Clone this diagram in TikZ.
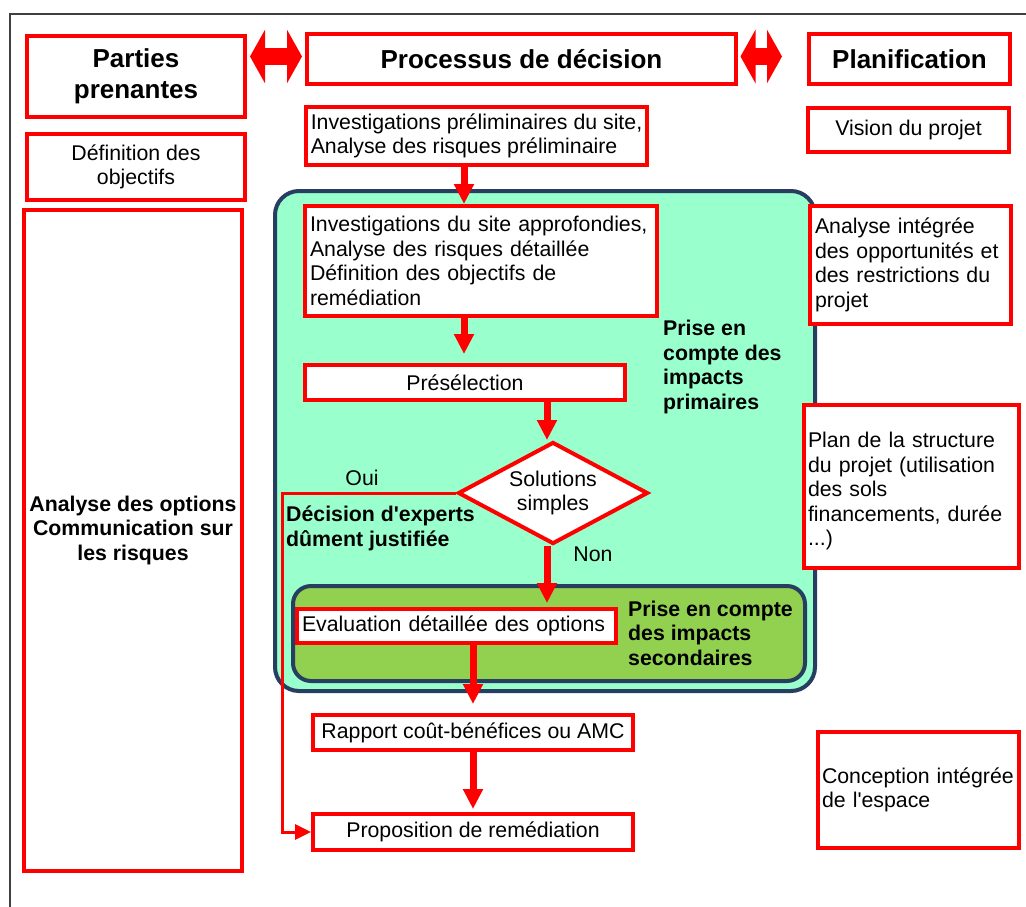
\documentclass[tikz,border=0pt]{standalone}
\usepackage{fontspec}
\setmainfont{Liberation Sans}
\usetikzlibrary{arrows.meta,shapes.geometric,calc}
\definecolor{myred}{RGB}{255,0,0}
\definecolor{mint}{RGB}{153,255,204}
\definecolor{leaf}{RGB}{146,208,80}
\definecolor{navy}{RGB}{40,62,96}
\begin{document}
\begin{tikzpicture}[x=1pt,y=-1pt,
  every node/.style={font=\fontsize{21.3}{24.5}\selectfont, inner sep=0pt},
  rb/.style={draw=myred, line width=4pt, fill=white, rectangle},
  hdr/.style={font=\fontsize{26}{31}\selectfont\bfseries},
  bold/.style={font=\fontsize{21.3}{24.5}\selectfont\bfseries},
  bigarrow/.style={draw=myred, line width=7pt, -{Triangle[length=20pt,width=19pt]}},
  thinarrow/.style={draw=myred, line width=3pt, -{Triangle[length=16pt,width=15pt]}},
  dbl/.style={draw=myred, line width=17pt, {Triangle[length=15pt,width=53pt]}-{Triangle[length=15pt,width=53pt]}},
  container/.style={draw=navy, line width=4pt}
]
\useasboundingbox (0,0) rectangle (1026,906);
% outer frame
\draw[line width=2pt, black!75] (1030,14) -- (10,14) -- (10,910);

% containers
\draw[container, fill=mint, rounded corners=24pt] (275,191) rectangle (815,691);
\draw[container, fill=leaf, rounded corners=18pt] (293,586) rectangle (805,681);

% header boxes
\node[rb, hdr, align=center, minimum width=218pt, minimum height=81pt] (pp) at (136,76) {Parties\\prenantes};
\node[rb, hdr, minimum width=429pt, minimum height=50pt] (pd) at (521.5,59) {Processus de décision};
\node[rb, hdr, minimum width=201pt, minimum height=50pt] (pl) at (909.5,59) {Planification};

% left column
\node[rb, align=center, minimum width=218pt, minimum height=66pt] (def) at (136,167) {Définition des\\objectifs};
\node[rb, bold, align=center, minimum width=218pt, minimum height=661pt] (ana) at (133,540.5) {Analyse des options\\Communication sur\\les risques\\\mbox{}};

% right column
\node[rb, minimum width=201pt, minimum height=44pt] (vis) at (908.5,130) {Vision du projet};
\node[rb, align=left, inner xsep=5pt, text width=191pt, minimum height=118pt] (aint) at (910.5,265) {Analyse intégrée\\des opportunités et\\des restrictions du\\projet};
\node[rb, align=left, inner xsep=4pt, text width=207pt, minimum height=163pt] (plan) at (911.5,486.5) {\mbox{}\\Plan de la structure\\du projet (utilisation\\des sols\\financements, durée\\...)};
\node[rb, align=left, inner xsep=4pt, text width=193pt, minimum height=116pt] (conc) at (918.5,790) {Conception\hspace{7pt}intégrée\\de l\textquotesingle espace};

% middle column
\node[rb, align=left, minimum width=341pt, minimum height=58pt] (ip) at (476.5,136) {Investigations préliminaires du site,\\Analyse des risques préliminaire};
\node[rb, align=left, inner xsep=5pt, text width=342pt, minimum height=110pt] (ia) at (481,261) {Investigations du site approfondies,\\Analyse des risques détaillée\\Définition des objectifs de\\remédiation};
\node[rb, minimum width=320pt, minimum height=35pt] (pre) at (465,382.5) {Présélection};
\node[draw=myred, line width=4pt, fill=white, diamond, aspect=1.86, align=center, minimum width=190pt, minimum height=102pt] (dia) at (553,493) {Solutions\\simples};
\node[rb, align=left, inner xsep=5pt, text width=309pt, minimum height=34pt] (ev) at (456.5,626) {Evaluation détaillée des options};
\node[rb, minimum width=320pt, minimum height=35pt] (rap) at (473,732.5) {Rapport coût-bénéfices ou AMC};
\node[rb, minimum width=320pt, minimum height=36pt] (prop) at (473,832) {Proposition de remédiation};

% labels
\node[bold, align=left, anchor=west] (prim) at (663,367) {Prise en\\compte des\\impacts\\primaires};
\node[bold, align=left, anchor=west] (sec) at (628,633) {Prise en compte\\des impacts\\secondaires};
\node[bold, align=left, anchor=west] (dec) at (286,528.5) {Décision d\textquotesingle experts\\dûment justifiée};
\node (oui) at (362,478) {Oui};
\node (non) at (593,554) {Non};

% helper x positions
\coordinate (xA) at (464,0);
\coordinate (xB) at (547,0);
\coordinate (xC) at (473,0);
\coordinate (xO) at (282,0);

% flow arrows
\draw[bigarrow] (ip.south -| xA) -- (ia.north -| xA);
\draw[bigarrow, shorten >=9pt] (ia.south -| xA) -- (pre.north -| xA);
\draw[bigarrow] (pre.south -| xB) -- (dia.north -| xB);
\draw[bigarrow, shorten >=4pt] (dia.south -| xB) -- (ev.north -| xB);
\draw[bigarrow, shorten >=9pt] (ev.south -| xC) -- (rap.north -| xC);
\draw[bigarrow, shorten >=3pt] (rap.south -| xC) -- (prop.north -| xC);
\draw[thinarrow] (dia.west) -| (xO |- prop.west) -- (prop.west);

% double arrows between headers
\coordinate (d1s) at (pp.east |- pd.west);
\draw[dbl, shorten <=3pt, shorten >=3pt] ($(d1s)+(0,-2.5)$) -- ($(pd.west)+(0,-2.5)$);
\coordinate (d2e) at (pl.west |- pd.east);
\draw[dbl, shorten <=2.5pt, shorten >=25pt] ($(pd.east)+(0,-2.5)$) -- ($(d2e)+(0,-2.5)$);
\end{tikzpicture}
\end{document}
